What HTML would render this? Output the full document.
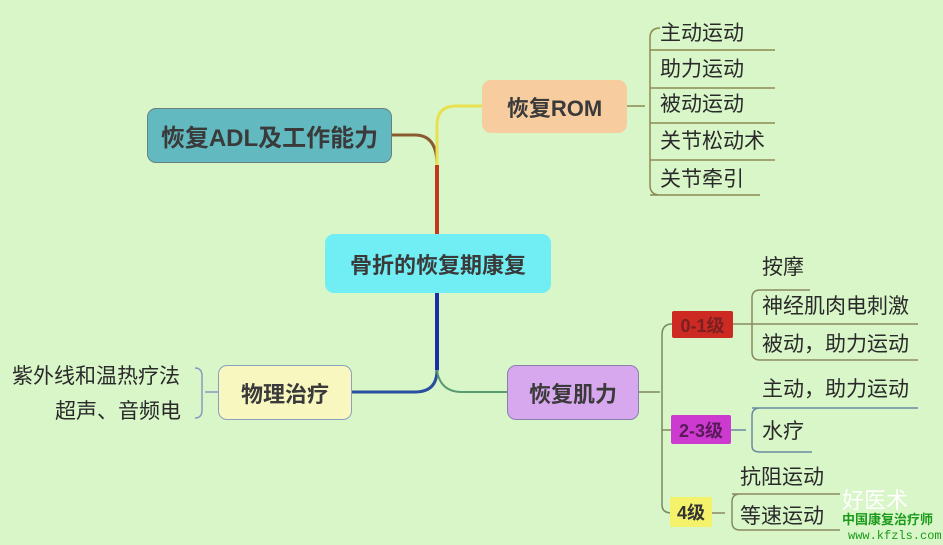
<!DOCTYPE html>
<html><head><meta charset="utf-8"><style>
body{margin:0;width:943px;height:545px;background:#d8f6c8;position:relative;overflow:hidden;font-family:"Liberation Sans","Noto Sans CJK SC",sans-serif;color:#333}
.n{position:absolute;box-sizing:border-box;border-radius:9px;display:flex;align-items:center;justify-content:center;font-weight:bold;color:#3a3a3a}
.t{position:absolute;font-size:21px;color:#2a2a2a;white-space:nowrap;line-height:1}
svg{position:absolute;left:0;top:0}
</style></head><body>
<svg width="943" height="545" fill="none">
<path d="M437 234 V165" stroke="#c0391e" stroke-width="4"/>
<path d="M437 165 Q437 135 415 135 H392" stroke="#8a5a30" stroke-width="3"/>
<path d="M437 165 V125 Q437 106 456 106 H482" stroke="#e8e050" stroke-width="3"/>
<path d="M437 293 V370" stroke="#1a2fa0" stroke-width="4"/>
<path d="M437 370 Q437 392 415 392 H352" stroke="#2a4ea0" stroke-width="3"/>
<path d="M437 370 Q440 392 462 392 H507" stroke="#5a9a70" stroke-width="2"/>
<path d="M627 106 H645 M660 28 Q650 28 650 38 V185 Q650 195 660 195 M650 50 H775 M650 88 H775 M650 123 H775 M650 160 H775 M650 195 H760" stroke="#8a8a50" stroke-width="1.5"/>
<path d="M639 392 H660 M672 324 Q662 324 662 335 V505 Q662 513 672 513 M662 430 H672" stroke="#7a8a60" stroke-width="1.5"/>
<path d="M733 324 H752 M760 290 Q752 290 752 298 V352 Q752 360 760 360 H918 M752 324 H918 M760 290 H810" stroke="#8a8a60" stroke-width="1.5"/>
<path d="M731 430 H746 M760 408 Q752 408 752 416 V446 Q752 452 760 452 H812 M752 408 H918" stroke="#6a8aa0" stroke-width="1.5"/>
<path d="M712 513 H725 M740 494 Q732 494 732 502 V522 Q732 530 740 530 H840 M732 494 H840" stroke="#8a8a60" stroke-width="1.5"/>
<path d="M218 392 H205 M195 368 Q202 368 202 376 V410 Q202 418 195 418" stroke="#8a9ac0" stroke-width="1.5"/>
</svg>
<div class="n" style="left:147px;top:108px;width:245px;height:55px;background:#62b9c0;border:1.5px solid #6a8080;font-size:24px">恢复ADL及工作能力</div>
<div class="n" style="left:482px;top:80px;width:145px;height:53px;background:#f7cd9f;font-size:22px">恢复ROM</div>
<div class="n" style="left:325px;top:234px;width:226px;height:59px;background:#70eef4;font-size:22px">骨折的恢复期康复</div>
<div class="n" style="left:218px;top:365px;width:134px;height:55px;background:#f8f7c0;border:1.5px solid #8aa0c0;font-size:22px">物理治疗</div>
<div class="n" style="left:507px;top:365px;width:132px;height:55px;background:#d8a8ee;border:1.5px solid #8a80b0;font-size:22px">恢复肌力</div>
<div class="n" style="left:672px;top:311px;width:61px;height:27px;background:#cc2a22;border-radius:2px;font-size:18px;color:#7a2020">0-1级</div>
<div class="n" style="left:671px;top:415px;width:60px;height:29px;background:#cc3ad0;border-radius:2px;font-size:18px;color:#5a1a5a">2-3级</div>
<div class="n" style="left:670px;top:497px;width:42px;height:30px;background:#f4f26a;border-radius:2px;font-size:18px;color:#333">4级</div>
<div class="t" style="left:660px;top:23px">主动运动</div>
<div class="t" style="left:660px;top:59px">助力运动</div>
<div class="t" style="left:660px;top:94px">被动运动</div>
<div class="t" style="left:660px;top:131px">关节松动术</div>
<div class="t" style="left:660px;top:169px">关节牵引</div>
<div class="t" style="left:762px;top:257px">按摩</div>
<div class="t" style="left:762px;top:296px">神经肌肉电刺激</div>
<div class="t" style="left:762px;top:334px">被动，助力运动</div>
<div class="t" style="left:762px;top:379px">主动，助力运动</div>
<div class="t" style="left:762px;top:421px">水疗</div>
<div class="t" style="left:740px;top:467px">抗阻运动</div>
<div class="t" style="left:740px;top:506px">等速运动</div>
<div class="t" style="left:12px;top:366px">紫外线和温热疗法</div>
<div class="t" style="left:55px;top:401px">超声、音频电</div>
<div class="t" style="left:842px;top:490px;font-size:22px;color:#fff">好医术</div>
<div class="t" style="left:842px;top:513px;font-size:13px;color:#1a9a1a;font-weight:bold">中国康复治疗师</div>
<div class="t" style="left:848px;top:530px;font-size:12px;color:#1a9a1a;font-family:'Liberation Mono',monospace">www.kfzls.com</div>
</body></html>
